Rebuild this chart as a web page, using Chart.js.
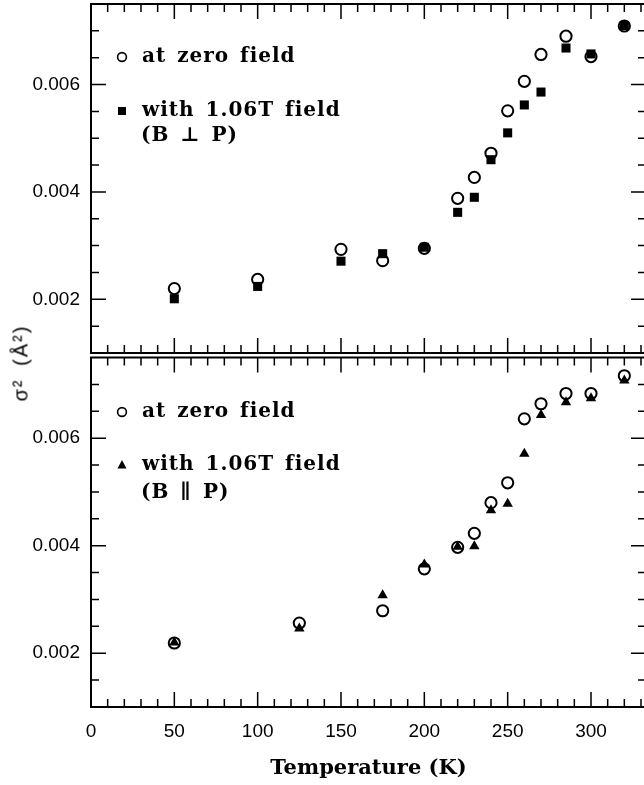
<!DOCTYPE html>
<html>
<head>
<meta charset="utf-8">
<script src="https://cdn.jsdelivr.net/npm/chart.js@4.4.1/dist/chart.umd.min.js"></script>
<style>
  body { margin: 0; background: #fff; }
  #wrap { position: relative; width: 644px; height: 785px; overflow: hidden; }
  .box { position: absolute; left: 0; width: 650px; }
  #ytitle {
    position: absolute; left: 21px; top: 363px;
    transform: translate(-50%, -50%) rotate(-90deg);
    font: 20px "Liberation Sans", Arial, sans-serif; letter-spacing: 2px; word-spacing: 5px;
    white-space: nowrap; color: #000;
  }
</style>
</head>
<body>
<div id="wrap">
  <div class="box" style="top:0;height:356px"><canvas id="topChart"></canvas></div>
  <div class="box" style="top:356px;height:429px"><canvas id="bottomChart"></canvas></div>
  <div id="ytitle">σ² (Å²)</div>
</div>
<script>
// upper panel: B perpendicular to P
const topTemps = [50, 100, 150, 175, 200, 220, 230, 240, 250, 260, 270, 285, 300, 320];
const topZero  = [0.00220, 0.00237, 0.00293, 0.00272, 0.00295, 0.00388, 0.00427, 0.00472, 0.00551, 0.00606, 0.00656, 0.00690, 0.00652, 0.00709];
const topPerp  = [0.00201, 0.00224, 0.00271, 0.00285, 0.00297, 0.00362, 0.00390, 0.00460, 0.00510, 0.00562, 0.00586, 0.00668, 0.00657, 0.00710];

// lower panel: B parallel to P
const botTemps = [50, 125, 175, 200, 220, 230, 240, 250, 260, 270, 285, 300, 320];
const botZero  = [0.00219, 0.00256, 0.00279, 0.00357, 0.00397, 0.00423, 0.00480, 0.00517, 0.00636, 0.00664, 0.00683, 0.00683, 0.00716];
const botPar   = [0.00220, 0.00246, 0.00308, 0.00365, 0.00398, 0.00399, 0.00466, 0.00478, 0.00571, 0.00643, 0.00667, 0.00674, 0.00707];

const xTickLabels = [0, 50, 100, 150, 200, 250, 300];
const yTickLabels = [0.002, 0.004, 0.006];

const xMin = 0, xMax = 333;
const yMin = 0.001, yMax = 0.0075;

function pts(xs, ys) {
  return xs.map((x, i) => ({ x: x, y: ys[i] }));
}

// box + inward ticks on all four sides
const frame = {
  id: 'frame',
  beforeDatasetsDraw(chart) {
    const ctx = chart.ctx, a = chart.chartArea;
    const x = chart.scales.x, y = chart.scales.y;
    ctx.save();
    ctx.strokeStyle = '#000';
    ctx.lineWidth = 1.5;
    ctx.beginPath();
    for (let t = 10; t < xMax; t += 10) {
      const px = x.getPixelForValue(t);
      const len = t % 50 === 0 ? 15 : 8;
      ctx.moveTo(px, a.bottom); ctx.lineTo(px, a.bottom - len);
      ctx.moveTo(px, a.top); ctx.lineTo(px, a.top + len);
    }
    for (let k = 3; k < 15; k++) {
      const py = y.getPixelForValue(k * 0.0005);
      const len = k % 4 === 0 ? 15 : 8;
      ctx.moveTo(a.left, py); ctx.lineTo(a.left + len, py);
      ctx.moveTo(a.right, py); ctx.lineTo(a.right - len, py);
    }
    ctx.stroke();
    ctx.lineWidth = 2;
    ctx.strokeRect(a.left, a.top, a.right - a.left, a.bottom - a.top);
    ctx.restore();
  }
};

function marker(ctx, style, x, y) {
  ctx.beginPath();
  if (style === 'circle') {
    ctx.lineWidth = 1.6;
    ctx.arc(x, y, 4.4, 0, Math.PI * 2);
    ctx.stroke();
    return;
  }
  if (style === 'rect') {
    ctx.rect(x - 4, y - 4, 8, 8);
  } else {
    ctx.moveTo(x, y - 5); ctx.lineTo(x + 4.5, y + 3.5); ctx.lineTo(x - 4.5, y + 3.5); ctx.closePath();
  }
  ctx.fill();
}

function legendBox(items) {
  return {
    id: 'legendBox',
    afterDatasetsDraw(chart) {
      const ctx = chart.ctx;
      ctx.save();
      ctx.fillStyle = '#000';
      ctx.strokeStyle = '#000';
      ctx.font = 'bold 20px "DejaVu Serif", serif';
      ctx.textBaseline = 'middle';
      ctx.letterSpacing = '1px';
      ctx.wordSpacing = '3px';
      items.forEach(it => {
        if (it.marker) marker(ctx, it.marker, 122, it.y);
        ctx.fillText(it.text, it.tx, it.y);
      });
      ctx.restore();
    }
  };
}

const tickFont = { family: 'Liberation Sans', size: 19 };

function yScale() {
  return {
    type: 'linear', min: yMin, max: yMax,
    grid: { display: false, drawTicks: false },
    border: { display: false },
    afterBuildTicks: s => { s.ticks = yTickLabels.map(v => ({ value: v })); },
    afterFit: s => { s.width = 91; s.paddingTop = 0; s.paddingBottom = 0; },
    ticks: { color: '#000', font: tickFont, padding: 11, callback: v => v.toFixed(3) }
  };
}

const circleSet = data => ({
  data: data, pointStyle: 'circle', pointRadius: 5.6, borderWidth: 2,
  borderColor: '#000', backgroundColor: 'rgba(0,0,0,0)'
});

new Chart(document.getElementById('topChart'), {
  type: 'scatter',
  data: {
    datasets: [
      circleSet(pts(topTemps, topZero)),
      { data: pts(topTemps, topPerp), pointStyle: 'rect', pointRadius: 6.4, borderWidth: 0,
        backgroundColor: '#000', borderColor: '#000' }
    ]
  },
  options: {
    responsive: true, maintainAspectRatio: false, animation: false, events: [],
    layout: { autoPadding: false, padding: { top: 4, right: 4, bottom: 3, left: 0 } },
    plugins: { legend: { display: false }, tooltip: { enabled: false } },
    scales: {
      x: { type: 'linear', min: xMin, max: xMax, display: false },
      y: yScale()
    }
  },
  plugins: [frame, legendBox([
    { marker: 'circle', text: 'at zero field', tx: 142, y: 57 },
    { marker: 'rect', text: 'with 1.06T field', tx: 142, y: 111 },
    { text: '(B ⊥ P)', tx: 141, y: 136 }
  ])]
});

new Chart(document.getElementById('bottomChart'), {
  type: 'scatter',
  data: {
    datasets: [
      circleSet(pts(botTemps, botZero)),
      { data: pts(botTemps, botPar), pointStyle: 'triangle', pointRadius: 6, borderWidth: 0,
        backgroundColor: '#000', borderColor: '#000' }
    ]
  },
  options: {
    responsive: true, maintainAspectRatio: false, animation: false, events: [],
    layout: { autoPadding: false, padding: { top: 1.5, right: 4, bottom: 0, left: 0 } },
    plugins: { legend: { display: false }, tooltip: { enabled: false } },
    scales: {
      x: {
        type: 'linear', min: xMin, max: xMax,
        grid: { display: false, drawTicks: false },
        border: { display: false },
        afterBuildTicks: s => { s.ticks = xTickLabels.map(v => ({ value: v })); },
        afterFit: s => { s.height = 78; s.paddingLeft = 0; s.paddingRight = 0; },
        ticks: { color: '#000', font: tickFont, padding: 13, maxRotation: 0, autoSkip: false },
        title: { display: true, text: 'Temperature (K)', color: '#000',
                 font: { family: 'DejaVu Serif', size: 21, weight: 'bold' }, padding: { top: 0, bottom: 4 } }
      },
      y: yScale()
    }
  },
  plugins: [frame, legendBox([
    { marker: 'circle', text: 'at zero field', tx: 142, y: 56 },
    { marker: 'triangle', text: 'with 1.06T field', tx: 142, y: 109 },
    { text: '(B ∥ P)', tx: 141, y: 137 }
  ])]
});
</script>
</body>
</html>
